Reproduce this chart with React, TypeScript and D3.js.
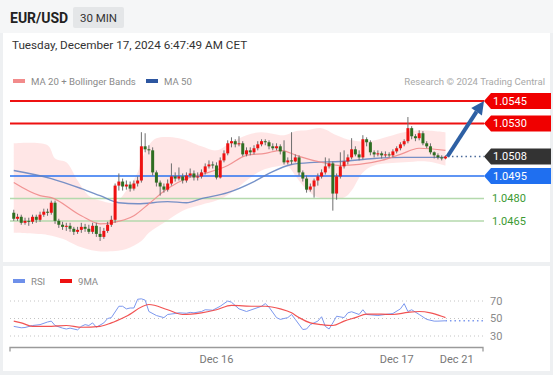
import * as d3 from "d3";

// ---- price data (30 min candles, EUR/USD) ----
const firstOpen = 1.04705;
const closes = [
  1.04665, 1.04678, 1.04638, 1.04651, 1.04645, 1.04678, 1.04658, 1.04692, 1.04712, 1.04705,
  1.04772, 1.04651, 1.04625, 1.04611, 1.04618, 1.04598, 1.04578, 1.04591, 1.04611, 1.04598,
  1.04578, 1.04618, 1.04564, 1.04544, 1.04584, 1.04625, 1.04658, 1.04886, 1.04913, 1.0488,
  1.04893, 1.04866, 1.049, 1.0492, 1.05148, 1.05128, 1.05121, 1.04974, 1.04906, 1.0488,
  1.04859, 1.049, 1.04947, 1.04933, 1.04947, 1.0492, 1.04953, 1.04967, 1.0494, 1.04947,
  1.04974, 1.05014, 1.05027, 1.0502, 1.0494, 1.05054, 1.05101, 1.05168, 1.05182, 1.05161,
  1.05168, 1.05094, 1.05121, 1.05108, 1.05135, 1.05161, 1.05182, 1.05175, 1.05148, 1.05135,
  1.05148, 1.05114, 1.05041, 1.05054, 1.05047, 1.05074, 1.04974, 1.04933, 1.04859, 1.0488,
  1.0492, 1.04947, 1.04974, 1.05014, 1.05034, 1.04833, 1.04947, 1.05014, 1.05047, 1.05074,
  1.05128, 1.05094, 1.05074, 1.05195, 1.05175, 1.05108, 1.05094, 1.05101, 1.05088, 1.05094,
  1.05088, 1.05114, 1.05135, 1.05161, 1.05182, 1.05269, 1.05215, 1.05202, 1.05235, 1.05168,
  1.05148, 1.05108, 1.05088, 1.05074, 1.05067, 1.0508,
];
const highs = [
  1.04725, 1.04698, 1.04692, 1.04672, 1.04672, 1.04692, 1.04692, 1.04712, 1.04732, 1.04732,
  1.04786, 1.04786, 1.04665, 1.04645, 1.04638, 1.04638, 1.04611, 1.04611, 1.04638, 1.04631,
  1.04625, 1.04638, 1.04638, 1.04611, 1.04604, 1.04645, 1.04685, 1.049, 1.04967, 1.04933,
  1.0492, 1.04913, 1.0492, 1.04947, 1.05242, 1.05235, 1.05155, 1.05141, 1.04987, 1.0492,
  1.049, 1.04927, 1.05034, 1.04974, 1.05007, 1.04967, 1.04974, 1.05, 1.04987, 1.04974,
  1.04994, 1.05034, 1.05054, 1.05047, 1.05041, 1.05074, 1.05121, 1.05188, 1.05208, 1.05195,
  1.05215, 1.05182, 1.05141, 1.05141, 1.05155, 1.05182, 1.05195, 1.05195, 1.05188, 1.05168,
  1.05168, 1.05161, 1.05188, 1.05074, 1.05242, 1.05094, 1.05088, 1.04987, 1.04953, 1.049,
  1.04933, 1.04967, 1.04994, 1.05074, 1.05067, 1.05047, 1.04967, 1.05108, 1.05121, 1.05094,
  1.05202, 1.05148, 1.05121, 1.05222, 1.05208, 1.05188, 1.05121, 1.05121, 1.05114, 1.05114,
  1.05108, 1.05128, 1.05148, 1.05175, 1.05195, 1.05343, 1.05282, 1.05229, 1.05255, 1.05249,
  1.05182, 1.05168, 1.05114, 1.05101, 1.05088, 1.05088,
];
const lows = [
  1.04651, 1.04651, 1.04625, 1.04625, 1.04618, 1.04631, 1.04638, 1.04645, 1.04678, 1.04685,
  1.04692, 1.04631, 1.04604, 1.04591, 1.04584, 1.04578, 1.04557, 1.04564, 1.04571, 1.04578,
  1.04564, 1.04564, 1.04544, 1.04517, 1.04531, 1.04571, 1.04611, 1.04638, 1.04853, 1.04853,
  1.04859, 1.04846, 1.04853, 1.0488, 1.04906, 1.05108, 1.05094, 1.04953, 1.0488, 1.04819,
  1.04839, 1.04846, 1.04886, 1.04913, 1.0492, 1.049, 1.04906, 1.0494, 1.0492, 1.0492,
  1.04933, 1.0496, 1.05, 1.05, 1.04927, 1.04933, 1.05041, 1.05088, 1.05141, 1.05141,
  1.05148, 1.05081, 1.05081, 1.05088, 1.05094, 1.05121, 1.05148, 1.05155, 1.05128, 1.05121,
  1.05121, 1.05094, 1.05027, 1.05027, 1.05027, 1.05041, 1.04953, 1.04913, 1.04839, 1.04846,
  1.04806, 1.04886, 1.04933, 1.0496, 1.05, 1.04719, 1.04792, 1.04933, 1.05, 1.05027,
  1.05061, 1.05081, 1.05054, 1.05061, 1.05148, 1.05088, 1.05074, 1.05081, 1.05067, 1.05074,
  1.05074, 1.05074, 1.05101, 1.05121, 1.05148, 1.05168, 1.05195, 1.05182, 1.05188, 1.05155,
  1.05135, 1.05094, 1.05067, 1.05061, 1.05054, 1.05061,
];

// indicators: [candle index, value]
const ma20 = [
  [0, 1.04906], [7, 1.04819], [10, 1.04806], [18, 1.04685], [23, 1.04631], [26, 1.04638],
  [32, 1.04685], [36, 1.04765], [41, 1.04866], [46, 1.04933], [51, 1.04967], [57, 1.0502],
  [62, 1.05088], [67, 1.05101], [71, 1.05121], [76, 1.05081], [82, 1.05041], [87, 1.0502],
  [92, 1.05027], [98, 1.05054], [103, 1.05094], [108, 1.05135], [115, 1.05121],
];
const ma50 = [
  [0, 1.04987], [10, 1.04933], [18, 1.04866], [23, 1.04819], [28, 1.04772], [33, 1.04765],
  [41, 1.04779], [46, 1.04772], [50, 1.04799], [57, 1.04839], [64, 1.04913], [68, 1.04967],
  [74, 1.05027], [80, 1.05041], [87, 1.05047], [96, 1.05067], [104, 1.05074], [115, 1.05074],
];
const bbUpper = [
  [0, 1.05168], [9, 1.05155], [11, 1.05067], [14, 1.05041], [17, 1.0492], [20, 1.04819],
  [23, 1.04786], [27, 1.04772], [30, 1.04853], [33, 1.04974], [34, 1.05054], [36, 1.05155],
  [38, 1.05202], [44, 1.05202], [50, 1.05148], [54, 1.05121], [58, 1.05175], [62, 1.05222],
  [66, 1.05242], [72, 1.05222], [75, 1.05249], [78, 1.05255], [82, 1.05269], [86, 1.05222],
  [90, 1.05188], [95, 1.05182], [100, 1.05215], [104, 1.05242], [108, 1.05255], [115, 1.05242],
];
const bbLower = [
  [0, 1.04571], [9, 1.04557], [13, 1.04531], [17, 1.04484], [22, 1.0445], [27, 1.0445],
  [30, 1.04463], [34, 1.04517], [36, 1.04571], [40, 1.04638], [45, 1.04719], [50, 1.04759],
  [54, 1.04786], [58, 1.04839], [62, 1.0492], [66, 1.04987], [70, 1.05014], [73, 1.05014],
  [75, 1.04953], [77, 1.04886], [80, 1.04819], [83, 1.04799], [88, 1.04806], [90, 1.04853],
  [93, 1.04974], [96, 1.0502], [104, 1.05041], [110, 1.05047], [115, 1.0502],
];

const rsi = [
  [0, 41], [2, 39.4], [3, 39.7], [5, 42], [7, 43], [9, 46], [10, 47], [11, 42], [13, 39],
  [14, 38], [15, 39], [17, 37], [18, 41], [19, 43], [20, 42], [21, 45], [22, 40], [24, 45],
  [25, 50], [26, 51], [28, 64], [29, 64], [30, 61], [31, 62], [32, 62], [33, 72], [34, 72.5],
  [35, 71], [36, 58], [38, 53.4], [40, 51], [41, 54.6], [43, 55.7], [44, 56.5], [46, 56],
  [47, 57], [48, 56.5], [50, 58], [51, 60], [53, 59.5], [55, 64], [57, 70], [58, 68.6],
  [60, 61], [62, 58], [64, 61], [66, 64], [67, 67], [68, 63], [70, 51], [71, 49], [73, 51],
  [74, 54.6], [75, 49], [77, 37.4], [78, 38], [79, 43], [81, 47], [82, 52], [83, 41],
  [84, 38], [85, 45], [86, 52.6], [88, 51], [89, 56.5], [90, 57.7], [92, 54.6], [93, 60],
  [94, 54.6], [97, 53.4], [99, 54.6], [101, 55.7], [103, 61], [104, 67], [105, 58], [106, 60],
  [108, 54.6], [110, 49], [112, 47], [113, 47], [115, 47.4],
];
const rsiMa = [
  [0, 47], [2, 45], [5, 41], [10, 41], [14, 42], [18, 40], [23, 41], [26, 45], [30, 52.6],
  [36, 66], [41, 60], [45, 54.6], [50, 56.5], [54, 60], [58, 65], [64, 64], [67, 64], [71, 61],
  [74, 56.5], [76, 51], [79, 45], [82, 43], [85, 42], [88, 47], [91, 51], [94, 55], [98, 55],
  [101, 54.6], [105, 57], [108, 58], [111, 56.5], [114, 52.6], [115, 51],
];

const levels = [1.0545, 1.053, 1.0508, 1.0495, 1.048, 1.0465];
const levelKinds = ["res", "res", "last", "sup", "sub", "sub"];
const target = 1.0545;
const rsiTicks = [70, 50, 30];
const dateTicks = [
  { idx: 54, label: "Dec 16" },
  { idx: 102, label: "Dec 17" },
  { idx: 118, label: "Dec 21" },
];

const FONT = "Roboto, 'Liberation Sans', Arial, sans-serif";
const RED = "#ee1111";
const GREEN = "#2f6e22";

const x = d3.scaleLinear().domain([-1, 125]).range([10, 483]);
const y = d3.scaleLinear().domain([1.0465, 1.0545]).range([221, 101]);
const yR = d3.scaleLinear().domain([30, 70]).range([336, 301]);

const tagColor: Record<string, string> = { res: "#f00000", last: "#333333", sup: "#1f6ff0" };

function tagPath(yc: number) {
  const x0 = 484;
  return `M${x0},${yc} L${x0 + 7},${yc - 8} L551,${yc - 8} L551,${yc + 8} L${x0 + 7},${yc + 8} Z`;
}

export default function App() {
  const line = d3
    .line<number[]>()
    .x((d) => x(d[0]))
    .y((d) => y(d[1]))
    .curve(d3.curveMonotoneX);
  const lineR = d3
    .line<number[]>()
    .x((d) => x(d[0]))
    .y((d) => yR(d[1]))
    .curve(d3.curveLinear);
  const maLineR = d3
    .line<number[]>()
    .x((d) => x(d[0]))
    .y((d) => yR(d[1]))
    .curve(d3.curveMonotoneX);
  const bandLine = d3
    .line<number[]>()
    .x((d) => x(d[0]))
    .y((d) => y(d[1]))
    .curve(d3.curveCatmullRom);
  const bandPath =
    bandLine(bbUpper) + bandLine([...bbLower].reverse())!.replace(/^M/, "L") + "Z";

  const n = closes.length;
  const lastX = x(n - 1);
  const lastY = y(closes[n - 1]);
  const tipX = x(125) + 1;
  const tipY = y(target);
  const ang = Math.atan2(tipY - lastY, tipX - lastX);
  const ah = 13;
  const aw = 6.5;
  const baseX = tipX - ah * Math.cos(ang);
  const baseY = tipY - ah * Math.sin(ang);
  const head = `M${tipX},${tipY} L${baseX + aw * Math.sin(ang)},${baseY - aw * Math.cos(ang)} L${
    baseX - aw * Math.sin(ang)
  },${baseY + aw * Math.cos(ang)} Z`;

  const cw = 3;
  const lastRsi = rsi[rsi.length - 1][1];

  return (
    <div style={{ position: "absolute", left: 0, top: 0 }}>
      <svg width={553} height={375} style={{ display: "block", fontFamily: FONT }}>
        <rect width={553} height={375} fill="#eef0f2" />
        <rect x={0} y={0} width={553} height={33} fill="#f5f6f7" />
        <rect x={3} y={33} width={547} height={229} fill="#ffffff" />
        <rect x={3} y={266} width={547} height={105} fill="#ffffff" />

        {/* header */}
        <text x={10} y={23} fontSize={14} fontWeight="bold" fill="#222">
          EUR/USD
        </text>
        <rect x={73} y={7} width={51} height={21} rx={2} fill="#e4e6e8" />
        <text x={98.5} y={22} fontSize={11.5} fill="#333" textAnchor="middle">
          30 MIN
        </text>
        <text x={12} y={49} fontSize={11.7} fill="#333">
          Tuesday, December 17, 2024 6:47:49 AM CET
        </text>

        {/* legend */}
        <rect x={13} y={79} width={12} height={4} fill="#f28b8b" />
        <text x={31} y={84.5} fontSize={9.6} fill="#8a8a8a">
          MA 20 + Bollinger Bands
        </text>
        <rect x={146} y={79} width={12} height={4} fill="#2d56a0" />
        <text x={164} y={84.5} fontSize={9.6} fill="#8a8a8a">
          MA 50
        </text>
        <text x={545} y={84.5} fontSize={9.6} fill="#a8a8a8" textAnchor="end">
          Research © 2024 Trading Central
        </text>

        {/* bollinger band fill */}
        <path d={bandPath} fill="#ffdede" opacity={0.75} />

        {/* level lines */}
        {levels.map((lv, i) => {
          const k = levelKinds[i];
          const yy = y(lv);
          if (k === "last") return null;
          const stroke = k === "res" ? "#ee1111" : k === "sup" ? "#2a72f0" : "#b4d9ad";
          const sw = k === "res" ? 2 : 1.5;
          return <line key={"l" + i} x1={10} x2={484} y1={yy} y2={yy} stroke={stroke} strokeWidth={sw} />;
        })}

        <path d={line(ma50)!} fill="none" stroke="#5f80c0" strokeWidth={1.4} opacity={0.85} />
        <path d={line(ma20)!} fill="none" stroke="#f08a8a" strokeWidth={1.2} opacity={0.9} />

        {/* candles */}
        {closes.map((c, i) => {
          const o = i === 0 ? firstOpen : closes[i - 1];
          const cx = x(i);
          const up = c >= o;
          const top = y(Math.max(o, c));
          const bot = y(Math.min(o, c));
          return (
            <g key={"c" + i}>
              <line x1={cx} x2={cx} y1={y(highs[i])} y2={y(lows[i])} stroke="#6e6e6e" strokeWidth={1} />
              <rect
                x={cx - cw / 2}
                y={top}
                width={cw}
                height={Math.max(1, bot - top)}
                fill={up ? RED : GREEN}
              />
            </g>
          );
        })}

        {/* last price dotted */}
        <line
          x1={lastX + 2}
          x2={484}
          y1={y(1.0508)}
          y2={y(1.0508)}
          stroke="#4a6a9a"
          strokeWidth={1.5}
          strokeDasharray="1.5,3"
        />

        {/* projection arrow */}
        <line x1={lastX + 2} y1={lastY} x2={baseX} y2={baseY} stroke="#2e60a4" strokeWidth={4} />
        <path d={head} fill="#2e60a4" />

        {/* level labels */}
        {levels.map((lv, i) => {
          const k = levelKinds[i];
          const yy = y(lv);
          if (k === "sub") {
            return (
              <text key={"t" + i} x={492} y={yy} dy="0.35em" fontSize={11} fill="#3c9a33">
                {lv.toFixed(4)}
              </text>
            );
          }
          return (
            <g key={"t" + i}>
              <path d={tagPath(yy)} fill={tagColor[k]} />
              <text x={493} y={yy} dy="0.36em" fontSize={11} fill="#fff">
                {lv.toFixed(4)}
              </text>
            </g>
          );
        })}

        {/* RSI panel */}
        <rect x={13} y={279} width={12} height={4} fill="#6e90ea" />
        <text x={31} y={284.5} fontSize={9.6} fill="#8a8a8a">
          RSI
        </text>
        <rect x={60} y={279} width={12} height={4} fill="#ee1111" />
        <text x={78} y={284.5} fontSize={9.6} fill="#8a8a8a">
          9MA
        </text>
        {rsiTicks.map((t) => (
          <g key={"r" + t}>
            <line x1={10} x2={483} y1={yR(t)} y2={yR(t)} stroke="#c4c4c4" strokeDasharray="1,3" />
            <text x={490} y={yR(t)} dy="0.35em" fontSize={11} fill="#8a8a8a">
              {t}
            </text>
          </g>
        ))}
        <path d={lineR(rsi)!} fill="none" stroke="#7c98ee" strokeWidth={1} />
        <line
          x1={lastX}
          x2={483}
          y1={yR(lastRsi)}
          y2={yR(lastRsi)}
          stroke="#7c98ee"
          strokeWidth={1.5}
          strokeDasharray="1.5,3"
        />
        <path d={maLineR(rsiMa)!} fill="none" stroke="#f04040" strokeWidth={1.2} opacity={0.9} />

        {/* x axis */}
        <path d={`M${x(-1)},351.5 V347.5 H${x(125)} V351.5`} fill="none" stroke="#9a9a9a" strokeWidth={1.3} />
        {dateTicks.map((t) => (
          <text key={t.label} x={x(t.idx)} y={363} fontSize={11} fill="#777" textAnchor="middle">
            {t.label}
          </text>
        ))}
      </svg>
    </div>
  );
}
